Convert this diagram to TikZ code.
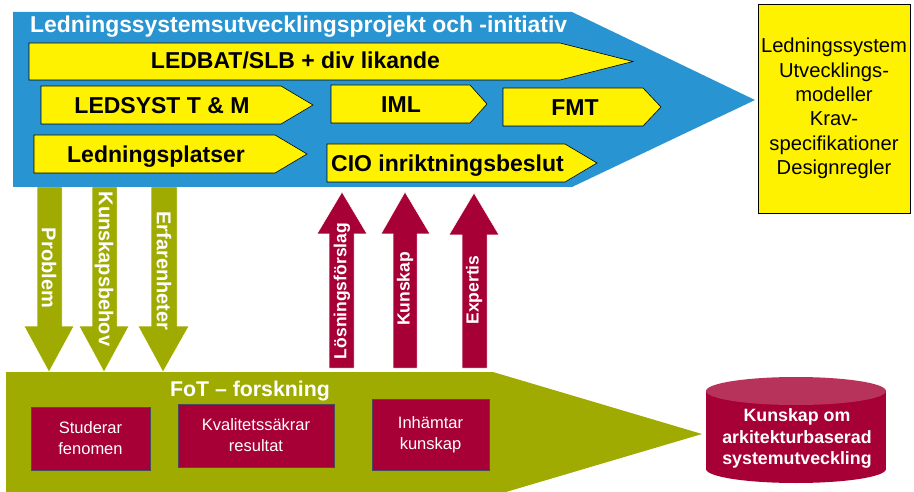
\documentclass[tikz,border=0pt]{standalone}
\usepackage{fontspec}
\setmainfont{Liberation Sans}
\definecolor{projblue}{HTML}{2895D2}
\definecolor{fotgreen}{HTML}{9FAB00}
\definecolor{fotred}{HTML}{A70036}
\definecolor{cyltop}{HTML}{B8335B}
\definecolor{boxedge}{HTML}{4A4A5A}
\begin{document}
\begin{tikzpicture}[x=1pt,y=-1pt,
  yellowpart/.style={fill=yellow,draw=black,line width=0.6pt},
  parttext/.style={font=\fontsize{23}{27}\selectfont\bfseries,inner sep=0pt,anchor=base},
  titletext/.style={font=\fontsize{22.9}{26}\selectfont\bfseries,text=white,inner sep=0pt,anchor=base west},
  greenarrow/.style={fill=fotgreen,draw=white,line width=0.5pt},
  redarrow/.style={fill=fotred,draw=white,line width=0.5pt},
  downlabel/.style={font=\fontsize{20}{24}\selectfont\bfseries,text=white,rotate=-90,inner sep=0pt},
  uplabel/.style={font=\fontsize{17.5}{21}\selectfont\bfseries,text=white,rotate=90,inner sep=0pt},
  activity/.style={fill=fotred,draw=boxedge,line width=0.6pt,text=white,align=center,
    font=\fontsize{16.5}{21}\selectfont,inner sep=0pt},
  resultbox/.style={fill=yellow,draw=black,line width=0.8pt,align=center,
    font=\fontsize{20.2}{24.4}\selectfont,inner sep=0pt},
  dbtext/.style={text=white,align=center,font=\fontsize{17.8}{21.5}\selectfont\bfseries,inner sep=0pt}
]
\useasboundingbox (0,0) rectangle (914,492);

% downward knowledge-need arrows
\draw[greenarrow] (37,187) -- (62,187) -- (62,326) -- (74,326) -- (49,372) -- (24,326) -- (37,326) -- cycle;
\draw[greenarrow] (92,187) -- (117,187) -- (117,326) -- (129,326) -- (104,372) -- (79,326) -- (92,326) -- cycle;
\draw[greenarrow] (151,187) -- (177,187) -- (177,326) -- (189,326) -- (163,372) -- (138,326) -- (151,326) -- cycle;

% upward result arrows
\draw[redarrow] (329,368) -- (354,368) -- (354,234) -- (367,234) -- (342,192) -- (317,234) -- (329,234) -- cycle;
\draw[redarrow] (393,368) -- (417,368) -- (417,234) -- (430,234) -- (405,192) -- (381,234) -- (393,234) -- cycle;
\draw[redarrow] (462,368) -- (487,368) -- (487,235) -- (499,235) -- (474,193) -- (449,235) -- (462,235) -- cycle;

% project chevron
\fill[projblue] (13,12) -- (572,12) -- (755,100) -- (572,187) -- (13,187) -- cycle;
\node[titletext] (title) at (30,33) {Ledningssystemsutvecklingsprojekt och -initiativ};

% project parts
\draw[yellowpart] (29,43) -- (560,43) -- (633,61.5) -- (560,80) -- (29,80) -- cycle;
\node[parttext] (ledbat) at (295.5,69) {LEDBAT/SLB + div likande};
\draw[yellowpart] (41,86) -- (281,86) -- (313,105) -- (281,124) -- (41,124) -- cycle;
\node[parttext] (ledsyst) at (162,114) {LEDSYST T \& M};
\draw[yellowpart] (331,85) -- (470,85) -- (487,104) -- (470,123) -- (331,123) -- cycle;
\node[parttext] (iml) at (401,113) {IML};
\draw[yellowpart] (503,88) -- (643,88) -- (661,107) -- (643,126) -- (503,126) -- cycle;
\node[parttext] (fmt) at (575,116) {FMT};
\draw[yellowpart] (34,135) -- (275,135) -- (307,154) -- (275,173) -- (34,173) -- cycle;
\node[parttext] (platser) at (156,163) {Ledningsplatser};
\draw[yellowpart] (327,144) -- (565,144) -- (597,163) -- (565,182) -- (327,182) -- cycle;
\node[parttext] (cio) at (447.5,172) {CIO inriktningsbeslut};

% arrow labels
\node[downlabel] (problem) at (49,268) {Problem};
\node[downlabel] (behov) at (104,269) {Kunskapsbehov};
\node[downlabel] (erfar) at (164,271) {Erfarenheter};
\node[uplabel] (losning) at (342,291) {Lösningsförslag};
\node[uplabel] (kunskap) at (405,289) {Kunskap};
\node[uplabel] (expertis) at (474,290) {Expertis};

% results box
\node[resultbox,minimum width=152,minimum height=209] (result) at (834,108.5)
  {Ledningssystem\\Utvecklings-\\modeller\\Krav-\\specifikationer\\Designregler};

% research chevron
\fill[fotgreen] (6,372) -- (493,372) -- (702,434) -- (506,492) -- (6,492) -- cycle;
\node[font=\fontsize{21.3}{25}\selectfont\bfseries,text=white,inner sep=0pt,anchor=base] (fot) at (250,396) {FoT – forskning};

% research activities
\node[activity,minimum width=119,minimum height=63] (studerar) at (90.5,438.5) {Studerar\\fenomen};
\node[activity,minimum width=156,minimum height=63] (kvalitet) at (256,435.5) {Kvalitetssäkrar\\resultat};
\node[activity,minimum width=117,minimum height=71] (inhamtar) at (430.5,434.5) {Inhämtar\\kunskap};

% knowledge store
\fill[fotred] (706,392) rectangle (886,469);
\fill[fotred] (796,469) ellipse [x radius=90, y radius=14];
\fill[cyltop] (796,391) ellipse [x radius=90, y radius=14];
\node[dbtext] (kb) at (797,438.5) {Kunskap om\\arkitekturbaserad\\systemutveckling};
\end{tikzpicture}
\end{document}
